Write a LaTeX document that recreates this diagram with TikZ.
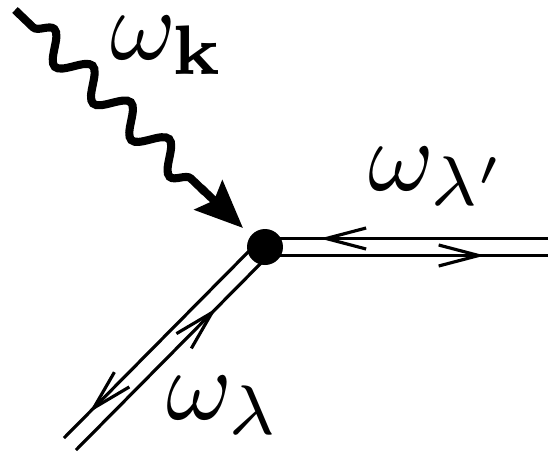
\documentclass[tikz,border=0pt]{standalone}
\usepackage{amsmath,amssymb}
\usetikzlibrary{arrows.meta,decorations.pathmorphing,decorations.markings}

\begin{document}
\begin{tikzpicture}[x=0.02cm,y=-0.02cm,
  lbl/.style={scale=5.7,inner sep=0pt},
  fline/.style={line width=1.8pt},
  barb/.tip={Straight Barb[length=0.8cm,width=0.42cm]},
  arrow pos/.style={postaction={decorate,decoration={markings,mark=at position #1 with {\arrow{barb}}}}},
  photon/.style={line width=4.6pt,decorate,decoration={snake,amplitude=0.27cm,segment length=1.06cm,pre length=0.5cm}}]
\useasboundingbox (0,0) rectangle (548,454);
\coordinate (s) at (15,10);\coordinate (m) at (205,192);\coordinate (t) at (243,228);
\coordinate (r) at (548,247);\coordinate (l) at (70,444);\coordinate (v) at (265,247);
% double lines
\draw[fline,arrow pos=.806] ([shift={(0,-8.5)}]r)--([shift={(0,-8.5)}]v);
\draw[fline,arrow pos=.777] ([shift={(0,8.5)}]v)--([shift={(0,8.5)}]r);
\draw[fline,arrow pos=.87] ([shift={(-6,-6)}]v)--([shift={(-6,-6)}]l);
\draw[fline,arrow pos=.72] ([shift={(6,6)}]l)--([shift={(6,6)}]v);
\node[circle,fill,inner sep=0pt,minimum size=0.72cm] (dot) at (v){};
% wavy line
\draw[photon] (s)--(m);
\draw[line width=4.6pt,-{Stealth[length=0.95cm,width=0.8cm,inset=0.15cm]}] ([shift={(-4,-4)}]m)--(t);
\node[lbl] (wk) at (168,45){$\omega_{\mathbf{k}}$};
\node[lbl] (wlp) at (439,176){$\omega_{\lambda'}$};
\node[lbl] (wl) at (224,405){$\omega_{\lambda}$};
\end{tikzpicture}
\end{document}
